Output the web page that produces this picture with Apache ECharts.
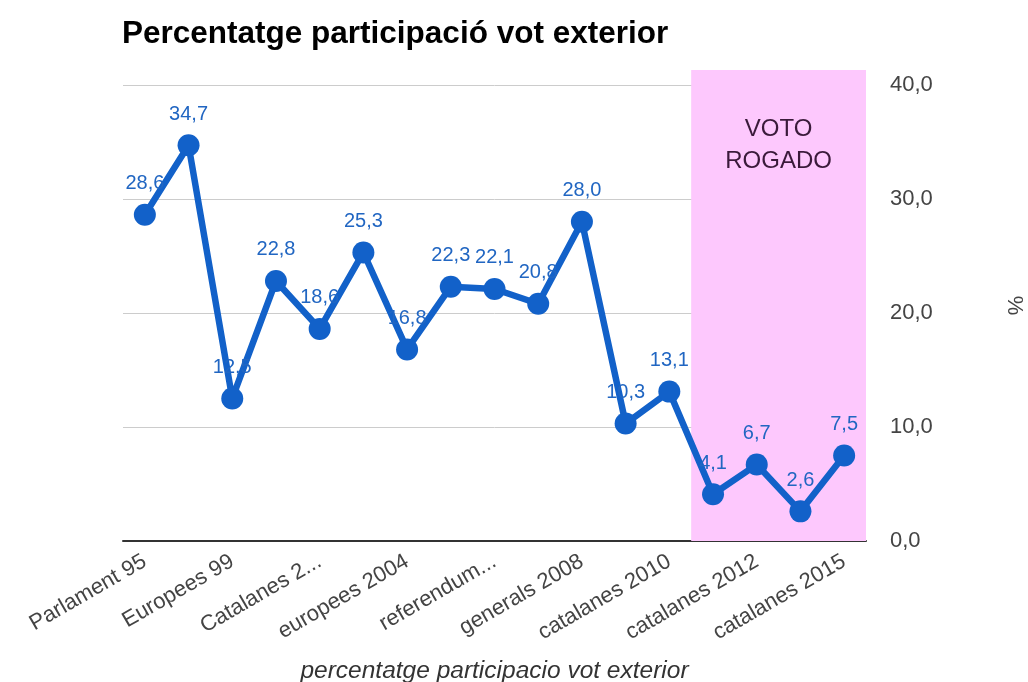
<!DOCTYPE html>
<html>
<head>
<meta charset="utf-8">
<script src="https://cdn.jsdelivr.net/npm/echarts@6/dist/echarts.min.js"></script>
<style>html,body{margin:0;padding:0;background:#fff;}#c{width:1028px;height:682px;}</style>
</head>
<body>
<div id="c"></div>
<script>
const titleText = 'Percentatge participació vot exterior';
const categories = ['Parlament 95','Generals 96','Europees 99','Catalanes 99','Catalanes 2...','Generals 2004','europees 2004','referendum 2005','referendum...','catalanes 2006','generals 2008','europees 2009','catalanes 2010','generals 2011','catalanes 2012','europees 2014','catalanes 2015'];
const values = [28.6, 34.7, 12.5, 22.8, 18.6, 25.3, 16.8, 22.3, 22.1, 20.8, 28.0, 10.3, 13.1, 4.1, 6.7, 2.6, 7.5];
const yTicks = [0, 10, 20, 30, 40];
const shadeRange = [12.5, 16.5];
const shadeLabel = 'VOTO\nROGADO';
const xName = 'percentatge participacio vot exterior';
const yName = '%';

const fmt = v => Number(v).toFixed(1).replace('.', ',');
const FF = 'Liberation Sans, Arial, sans-serif';
const chart = echarts.init(document.getElementById('c'));
chart.setOption({
  animation: false,
  textStyle: { fontFamily: FF },
  title: {
    text: titleText, left: 117, top: 13,
    textStyle: { fontSize: 31.5, fontWeight: 'bold', color: '#000', fontFamily: FF }
  },
  grid: { left: 123, right: 162, top: 70, bottom: 141, containLabel: false, outerBoundsMode: 'none' },
  xAxis: [{
    type: 'category', data: categories, boundaryGap: true,
    axisLine: { lineStyle: { color: '#333', width: 2 } },
    axisTick: { show: false },
    axisLabel: { interval: 1, rotate: 30, color: '#444', fontSize: 22, margin: 19 },
    name: xName, nameLocation: 'middle', nameGap: 118,
    nameTextStyle: { fontStyle: 'italic', fontSize: 24.5, color: '#333' }
  }, {
    type: 'value', min: -0.5, max: 16.5, show: false
  }],
  yAxis: [{
    type: 'value', position: 'right', min: 0, max: 41.3, interval: 10,
    axisLine: { show: false }, axisTick: { show: false },
    splitLine: { showMaxLine: false, lineStyle: { color: '#cccccc', width: 1 } },
    axisLabel: { formatter: v => yTicks.includes(v) ? fmt(v) : '', showMaxLabel: false, color: '#444', fontSize: 22, margin: 24 },
    name: yName, nameLocation: 'middle', nameGap: 137, nameRotate: -90,
    nameTextStyle: { fontSize: 22, color: '#444' }
  }],
  series: [{
    type: 'line', xAxisIndex: 1, yAxisIndex: 0, data: [], silent: true,
    markArea: {
      silent: true,
      itemStyle: { color: '#fdc8fd' },
      label: { show: true, position: 'insideTop', distance: 43, color: '#3a1a3a', fontSize: 24, lineHeight: 32, align: 'center' },
      data: [[{ xAxis: shadeRange[0], yAxis: 0, name: shadeLabel }, { xAxis: shadeRange[1], yAxis: 41.3 }]]
    }
  }, {
    type: 'line', data: values, xAxisIndex: 0, yAxisIndex: 0,
    symbol: 'circle', symbolSize: 22,
    lineStyle: { color: '#1261c9', width: 6.5 },
    itemStyle: { color: '#1261c9' },
    label: { show: true, position: 'top', distance: 10, color: '#2166c2', fontSize: 20, formatter: p => fmt(p.value) }
  }]
});
</script>
</body>
</html>
